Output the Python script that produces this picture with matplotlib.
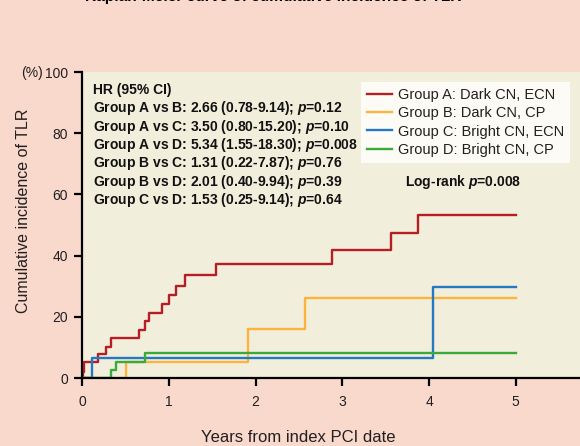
import matplotlib
matplotlib.use('Agg')
import matplotlib.pyplot as plt

# step curves: event times (years) and cumulative incidence (%)
time_a = [0, 0.015, 0.026, 0.19, 0.28, 0.33, 0.66, 0.73, 0.77, 0.92, 1.0, 1.08, 1.19, 1.54, 2.88, 3.56, 3.87, 5.0]
inc_a = [0, 2.0, 5.1, 7.8, 10.2, 13.0, 15.7, 18.5, 21.3, 24.2, 27.1, 30.1, 33.6, 37.2, 41.8, 47.3, 53.3, 53.3]
time_b = [0, 0.51, 1.91, 2.57, 5.0]
inc_b = [0, 5.1, 15.9, 26.2, 26.2]
time_c = [0, 0.11, 4.04, 5.0]
inc_c = [0, 6.4, 29.6, 29.6]
time_d = [0, 0.33, 0.39, 0.73, 5.0]
inc_d = [0, 2.6, 5.3, 8.3, 8.3]

labels = ['Group A: Dark CN, ECN', 'Group B: Dark CN, CP',
          'Group C: Bright CN, ECN', 'Group D: Bright CN, CP']
colors = ['#b41e24', '#fdb43c', '#2479c2', '#3aaa3a']

hr_lines = ['HR (95% CI)',
            'Group A vs B: 2.66 (0.78-9.14); $p$=0.12',
            'Group A vs C: 3.50 (0.80-15.20); $p$=0.10',
            'Group A vs D: 5.34 (1.55-18.30); $p$=0.008',
            'Group B vs C: 1.31 (0.22-7.87); $p$=0.76',
            'Group B vs D: 2.01 (0.40-9.94); $p$=0.39',
            'Group C vs D: 1.53 (0.25-9.14); $p$=0.64']
title = 'Kaplan-Meier curve of cumulative incidence of TLR'

font = 'Liberation Sans'
plt.rcParams['font.family'] = [font, 'DejaVu Sans']
plt.rcParams['mathtext.fontset'] = 'custom'
plt.rcParams['mathtext.it'] = font + ':italic:bold'
plt.rcParams['mathtext.rm'] = font + ':bold'

W, H = 580, 446
bg = '#f9d9cb'
ink = '#231f20'
fig = plt.figure(figsize=(W / 100, H / 100), dpi=100, facecolor=bg)
ax = fig.add_axes([82 / W, 1 - 378 / H, 1 - 82 / W, (378 - 72) / H])
ax.set_facecolor('#f2eedc')

# bold text sizes from target widths in pixels
renderer = fig.canvas.get_renderer()


def fit_size(s, width):
    probe = fig.text(0, 0, s, fontsize=10, fontweight='bold')
    w = probe.get_window_extent(renderer).width
    probe.remove()
    return 10 * width / w


fs = fit_size(hr_lines[3], 264)
fs_title = fit_size(title, 375)

for t, v, c, lab in zip([time_a, time_b, time_c, time_d],
                        [inc_a, inc_b, inc_c, inc_d], colors, labels):
    ax.step(t, v, where='post', color=c, lw=1.7, label=lab)

ax.set_xlim(0, 5.74)
ax.set_ylim(0, 100)
ax.set_xticks(range(6))
ax.set_yticks(range(0, 101, 20))
for s in ['top', 'right']:
    ax.spines[s].set_visible(False)
for s in ['left', 'bottom']:
    ax.spines[s].set_linewidth(1.6)
ax.tick_params(direction='out', length=6, width=1.6, pad=4, labelsize=10,
               labelcolor=ink)
ax.tick_params(axis='x', pad=6)


def put(x, y, s, **kw):
    fig.text(x / W, 1 - y / H, s, **kw)


put(273, 1, title, ha='center', va='baseline', fontsize=fs_title, fontweight='bold')
put(43, 73, '(%)', ha='right', va='center', fontsize=10, color=ink)
put(24, 211, 'Cumulative incidence of TLR', rotation=90, ha='center', va='center',
    fontsize=11.5, color=ink)
put(298, 437, 'Years from index PCI date', ha='center', va='center',
    fontsize=12, color=ink)

for i, line in enumerate(hr_lines):
    put(93, 90 + i * 18.35, line, ha='left', va='center', fontsize=fs,
        fontweight='bold', color='#111111')

put(463, 182, 'Log-rank $p$=0.008', ha='center', va='center', fontsize=fs,
    fontweight='bold', color='#111111')

leg = ax.legend(loc='upper left', bbox_to_anchor=(361 / W, 1 - 82 / H),
                bbox_transform=fig.transFigure, borderaxespad=0, frameon=True,
                fancybox=False, facecolor='#fcfbf5', edgecolor='none', framealpha=1,
                handlelength=1.7, handletextpad=0.45, labelspacing=0.3,
                borderpad=0.4, prop={'size': 10.5})
for txt in leg.get_texts():
    txt.set_color(ink)

fig.savefig('out.png', dpi=100, facecolor=bg)
